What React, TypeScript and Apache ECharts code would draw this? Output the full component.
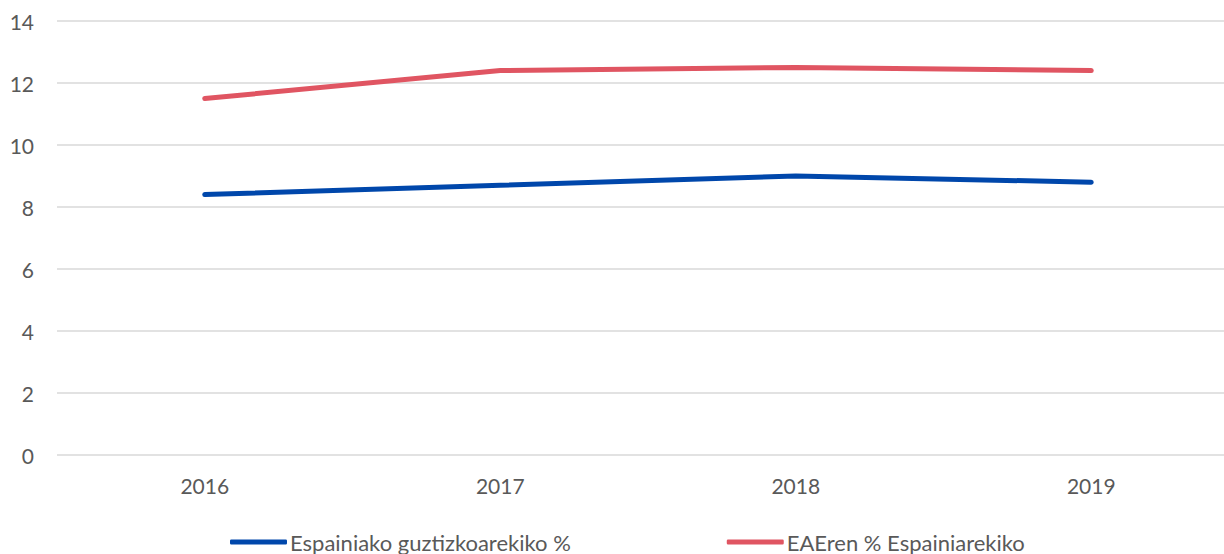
import React, { useEffect, useRef } from "react";
import * as echarts from "echarts";

const categories = ["2016", "2017", "2018", "2019"];
const spainShare = [8.4, 8.7, 9.0, 8.8];
const eaeShare = [11.5, 12.4, 12.5, 12.4];
const seriesNames = ["Espainiako guztizkoarekiko %", "EAEren % Espainiarekiko"];
const yTicks = { min: 0, max: 14, interval: 2 };

export default function App() {
  const ref = useRef<HTMLDivElement>(null);
  useEffect(() => {
    document.body.style.margin = "0";
    const chart = echarts.init(ref.current!, null, { renderer: "svg" });
    const font = "Lato, 'Noto Sans', sans-serif";
    chart.setOption({
      animation: false,
      backgroundColor: "#ffffff",
      textStyle: { fontFamily: font },
      grid: {
        left: 57,
        width: 1182,
        top: 21,
        bottom: 99,
        containLabel: false,
        outerBoundsMode: "none",
      },
      legend: {
        top: 531,
        left: 230,
        padding: 0,
        itemWidth: 57,
        itemHeight: 5,
        itemGap: 156,
        icon: "roundRect",
        textStyle: { color: "#595959", fontSize: 22, fontFamily: font, padding: [0, 0, 0, -2] },
        data: seriesNames,
      },
      xAxis: {
        type: "category",
        data: categories,
        boundaryGap: true,
        axisLine: { show: false },
        axisTick: { show: false },
        axisLabel: { color: "#595959", fontSize: 21, margin: 20, fontFamily: font },
      },
      yAxis: {
        type: "value",
        min: yTicks.min,
        max: yTicks.max,
        interval: yTicks.interval,
        axisLine: { show: false },
        axisTick: { show: false },
        axisLabel: { color: "#595959", fontSize: 21, margin: 23, fontFamily: font },
        splitLine: { lineStyle: { color: "#d9d9d9", width: 1.5 } },
      },
      series: [
        {
          name: seriesNames[0],
          type: "line",
          data: spainShare,
          symbol: "none",
          lineStyle: { color: "#0047ab", width: 5, cap: "round" },
          itemStyle: { color: "#0047ab" },
        },
        {
          name: seriesNames[1],
          type: "line",
          data: eaeShare,
          symbol: "none",
          lineStyle: { color: "#e05562", width: 5, cap: "round" },
          itemStyle: { color: "#e05562" },
        },
      ],
    });
    return () => chart.dispose();
  }, []);
  return <div ref={ref} style={{ width: 1224, height: 554 }} />;
}
